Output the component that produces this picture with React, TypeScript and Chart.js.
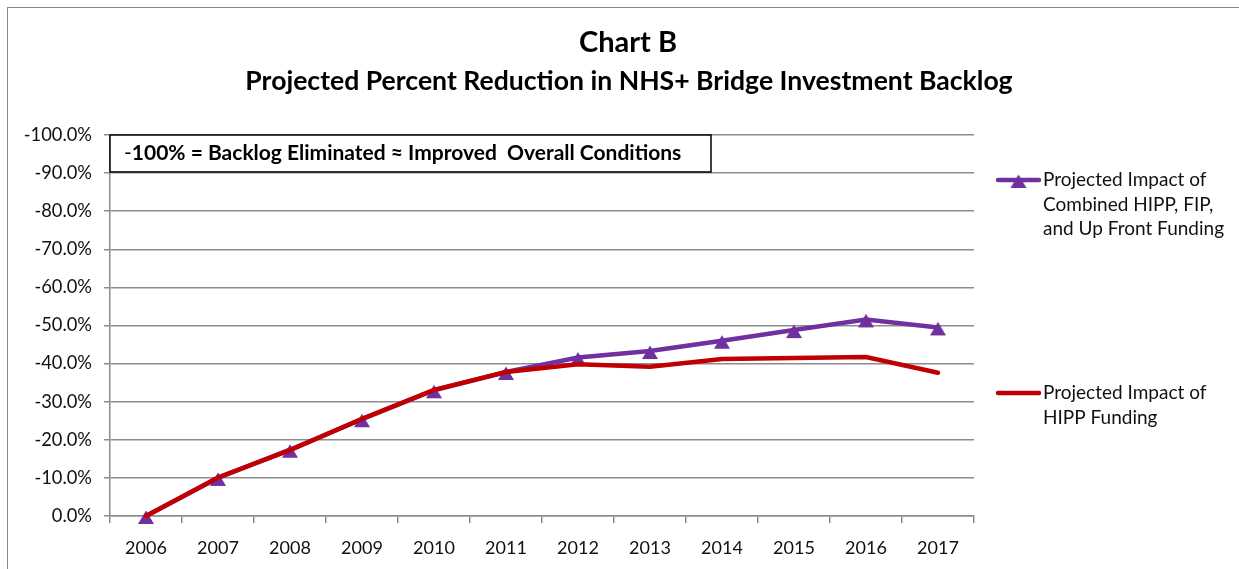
import React, { useEffect, useRef } from "react";
import { Chart, registerables } from "chart.js";

Chart.register(...registerables);

const years = ["2006", "2007", "2008", "2009", "2010", "2011", "2012", "2013", "2014", "2015", "2016", "2017"];
const combinedImpact = [0, -10, -17.4, -25.4, -33, -37.8, -41.6, -43.3, -46, -48.8, -51.6, -49.5];
const hippImpact = [0, -10.1, -17.3, -25.5, -33.1, -37.8, -39.8, -39.2, -41.2, -41.5, -41.7, -37.6];
const combinedLabel = ["Projected Impact of", "Combined HIPP, FIP,", "and Up Front Funding"];
const hippLabel = ["Projected Impact of", "HIPP Funding"];
const titleText = "Chart B";
const subtitleText = "Projected Percent Reduction in NHS+ Bridge Investment Backlog";
const noteDash = "-";
const noteText = "100% = Backlog Eliminated \u2248 Improved  Overall Conditions";

const PURPLE = "#7030A0";
const RED = "#C00000";
const GRID = "#8c8c8c";
const FONT = "Lato, 'Open Sans', sans-serif";

function makeTriangle(color: string) {
  const c = document.createElement("canvas");
  c.width = 20;
  c.height = 20;
  const g = c.getContext("2d")!;
  g.fillStyle = color;
  g.beginPath();
  g.moveTo(10, 4.5);
  g.lineTo(18, 18);
  g.lineTo(2, 18);
  g.closePath();
  g.fill();
  return c;
}

const decorPlugin = {
  id: "decor",
  afterDraw(chart: any) {
    const ctx = chart.ctx;
    const area = chart.chartArea;
    const y = chart.scales.y;
    ctx.save();
    // Titles
    ctx.fillStyle = "#000";
    ctx.textAlign = "center";
    ctx.textBaseline = "middle";
    ctx.font = `bold 29px ${FONT}`;
    ctx.fillText(titleText, 620, 35);
    ctx.font = `bold 26.6px ${FONT}`;
    ctx.fillText(subtitleText, 621, 73);

    // Annotation box
    const top = y.getPixelForValue(-100);
    const bottom = y.getPixelForValue(-90.3);
    const left = area.left;
    const right = 703;
    ctx.fillStyle = "#fff";
    ctx.fillRect(left, top, right - left, bottom - top);
    ctx.strokeStyle = "#000";
    ctx.lineWidth = 1.5;
    ctx.strokeRect(left, top, right - left, bottom - top);
    ctx.fillStyle = "#000";
    ctx.textAlign = "left";
    ctx.font = `21px ${FONT}`;
    const midY = (top + bottom) / 2;
    ctx.fillText(noteDash, 116, midY);
    const dw = ctx.measureText(noteDash).width;
    ctx.font = `bold 21px ${FONT}`;
    ctx.fillText(noteText, 116 + dw, midY);

    // Legend
    const tri = makeTriangle(PURPLE);
    const drawEntry = (color: string, lines: string[], y0: number, marker: boolean) => {
      ctx.strokeStyle = color;
      ctx.lineWidth = 4.5;
      ctx.lineCap = "round";
      ctx.beginPath();
      ctx.moveTo(990, y0);
      ctx.lineTo(1031, y0);
      ctx.stroke();
      if (marker) {
        ctx.drawImage(tri, 1000.5, y0 - 10);
      }
      ctx.fillStyle = "#111";
      ctx.font = `19px ${FONT}`;
      ctx.textAlign = "left";
      ctx.textBaseline = "middle";
      lines.forEach((l, i) => ctx.fillText(l, 1035, y0 + i * 24.5));
    };
    drawEntry(PURPLE, combinedLabel, 172, true);
    drawEntry(RED, hippLabel, 385, false);
    ctx.restore();
  },
};

export default function App() {
  const ref = useRef<HTMLCanvasElement | null>(null);
  useEffect(() => {
    if (!ref.current) return;
    const tri = makeTriangle(PURPLE);
    const chart = new Chart(ref.current, {
      type: "line",
      data: {
        labels: years,
        datasets: [
          {
            label: combinedLabel.join(" "),
            data: combinedImpact,
            order: 2,
            clip: false,
            borderColor: PURPLE,
            backgroundColor: PURPLE,
            borderWidth: 4.5,
            pointStyle: tri,
            pointRadius: 9,
            pointBackgroundColor: PURPLE,
            pointBorderColor: PURPLE,
            pointBorderWidth: 0,
            tension: 0,
          },
          {
            label: hippLabel.join(" "),
            data: hippImpact,
            order: 1,
            clip: false,
            borderColor: RED,
            backgroundColor: RED,
            borderWidth: 4.5,
            pointRadius: 0,
            tension: 0,
            borderCapStyle: "round",
          },
        ],
      },
      options: {
        animation: false,
        responsive: true,
        maintainAspectRatio: false,
        layout: { padding: { top: 127, right: 265, left: 0, bottom: 0 } },
        plugins: {
          legend: { display: false },
          title: { display: false },
          tooltip: { enabled: false },
        },
        scales: {
          x: {
            offset: true,
            grid: {
              display: true,
              offset: true,
              drawOnChartArea: false,
              drawTicks: true,
              tickLength: 7,
              color: GRID,
              lineWidth: 1.5,
            },
            border: { display: true, color: GRID, width: 1.5 },
            ticks: {
              color: "#111",
              font: { family: FONT, size: 18 },
              padding: 14,
              maxRotation: 0,
              autoSkip: false,
            },
            afterFit: (s: any) => {
              s.height = 53;
            },
          },
          y: {
            reverse: true,
            min: -100,
            max: 0,
            ticks: {
              stepSize: 10,
              color: "#111",
              font: { family: FONT, size: 18.3 },
              padding: 12,
              callback: (v: any) => `${Number(v).toFixed(1)}%`,
            },
            grid: {
              color: GRID,
              lineWidth: 1.5,
              tickLength: 6,
              drawTicks: true,
            },
            border: { display: true, color: GRID, width: 1.5 },
            afterFit: (s: any) => {
              s.width = 102;
            },
          },
        },
      },
      plugins: [decorPlugin],
    });
    return () => chart.destroy();
  }, []);
  return (
    <div
      style={{
        position: "fixed",
        left: 7,
        top: 7,
        width: 1232,
        height: 562,
        boxSizing: "border-box",
        borderTop: "1px solid #8a8a8a",
        borderLeft: "1px solid #8a8a8a",
        background: "#fff",
      }}
    >
      <div style={{ position: "relative", width: 1231, height: 561 }}>
        <canvas ref={ref} />
      </div>
    </div>
  );
}
